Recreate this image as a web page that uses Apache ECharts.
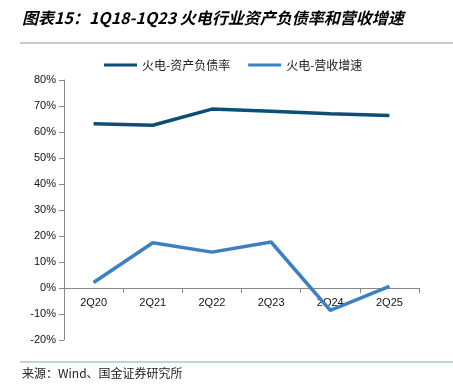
<!DOCTYPE html>
<html><head><meta charset="utf-8">
<script src="https://cdn.jsdelivr.net/npm/echarts@6/dist/echarts.min.js"></script>
<style>html,body{margin:0;padding:0;background:#fff}#c{width:453px;height:389px}</style>
</head><body><div id="c"></div>
<script>
const categories = ['2Q20','2Q21','2Q22','2Q23','2Q24','2Q25'];
const debtRatio = [63.2, 62.6, 68.8, 68.0, 67.0, 66.3];
const revenueGrowth = [2.1, 17.4, 13.8, 17.7, -8.6, 0.6];
const seriesNames = ['火电-资产负债率', '火电-营收增速'];
const titleText = '图表15：1Q18-1Q23 火电行业资产负债率和营收增速';
const sourceText = '来源：Wind、国金证券研究所';

const chart = echarts.init(document.getElementById('c'));
chart.setOption({
  animation: false,
  textStyle: {fontFamily: 'Liberation Sans, Arial, "Noto Sans CJK SC"'},
  graphic: [
    {type:'text', left: 22, top: 10, style:{text: titleText, font:'italic bold 16px "Noto Sans CJK SC"', fill:'#000'}},
    {type:'line', shape:{x1:20,y1:43,x2:453,y2:43}, style:{stroke:'#7f9bb0', lineWidth:1}},
    {type:'line', shape:{x1:20,y1:362,x2:453,y2:362}, style:{stroke:'#7fa7b8', lineWidth:1}},
    {type:'text', left: 22, top: 367, style:{text: sourceText, font:'12px "Noto Sans CJK SC"', fill:'#222'}}
  ],
  legend: {
    top: 54, left: 99,
    itemWidth: 33, itemHeight: 3, itemGap: 18,
    icon: 'rect',
    textStyle: {fontSize: 12, color:'#222', fontFamily:'"Noto Sans CJK SC"'},
    data: seriesNames
  },
  grid: {left: 64, right: 34, top: 80, bottom: 49},
  xAxis: {
    type: 'category', data: categories, boundaryGap: true,
    offset: -52,
    axisLine: {onZero: false, lineStyle:{color:'#888'}},
    axisTick: {show: true, lineStyle:{color:'#888'}},
    axisLabel: {color:'#111', fontSize: 11, margin: 9}
  },
  yAxis: {
    type: 'value', min: -20, max: 80, interval: 10,
    axisLine: {show: true, lineStyle:{color:'#888'}},
    axisTick: {show: true, lineStyle:{color:'#888'}},
    splitLine: {show: false},
    axisLabel: {formatter: '{value}%', color:'#111', fontSize: 11}
  },
  series: [
    {name: seriesNames[0], type:'line', data: debtRatio, symbol:'none',
     lineStyle:{width:3.5, color:'#0b4f77'}, itemStyle:{color:'#0b4f77'}},
    {name: seriesNames[1], type:'line', data: revenueGrowth, symbol:'none',
     lineStyle:{width:3.5, color:'#3d7fc3'}, itemStyle:{color:'#3d7fc3'}}
  ]
});
</script></body></html>
